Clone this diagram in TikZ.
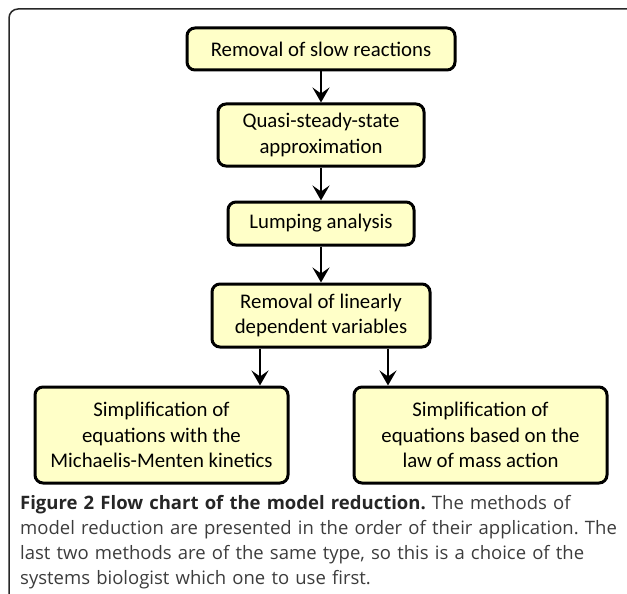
\documentclass[tikz,border=0pt]{standalone}
\usepackage{fontspec}
\setmainfont{Carlito}
\newfontfamily\capfont{Open Sans}
\usetikzlibrary{arrows.meta}
\definecolor{boxfill}{RGB}{255,255,200}
\definecolor{captext}{RGB}{60,60,60}
\definecolor{frameline}{RGB}{40,40,40}
\frenchspacing
\begin{document}
\begin{tikzpicture}[x=1pt,y=-1pt,
  stepbox/.style={draw=black, line width=3pt, fill=boxfill, rounded corners=8pt,
    align=center, inner sep=0pt, font=\fontsize{20.8}{25.5}\selectfont},
  arr/.style={line width=2.5pt, -{Stealth[length=15pt,width=17pt,inset=6pt]}},
  frame/.style={draw=frameline, line width=1.5pt, rounded corners=9pt}]
\useasboundingbox (0,0) rectangle (627,594);
\draw[frame] (627,9) -- (9,9) -- (9,594);
\node[stepbox, minimum width=268pt, minimum height=42pt] (b1) at (321,49) {Removal of slow reactions};
\node[stepbox, minimum width=206pt, minimum height=62pt] (b2) at (321,135) {Quasi-steady-state\\approximation};
\node[stepbox, minimum width=186pt, minimum height=43pt] (b3) at (321,223.5) {Lumping analysis};
\node[stepbox, minimum width=218pt, minimum height=63pt] (b4) at (321,315.5) {Removal of linearly\\dependent variables};
\node[stepbox, minimum width=253pt, minimum height=96pt] (b5) at (161.5,435) {Simplification of\\equations with the\\Michaelis-Menten kinetics};
\node[stepbox, minimum width=253pt, minimum height=96pt] (b6) at (480.5,435) {Simplification of\\equations based on the\\law of mass action};
\draw[arr] (b1) -- (b2);
\draw[arr] (b2) -- (b3);
\draw[arr] (b3) -- (b4);
\coordinate (s1) at ([xshift=-61pt]b4.south);
\coordinate (s2) at ([xshift=67pt]b4.south);
\draw[arr] (s1) -- (s1 |- b5.north);
\draw[arr] (s2) -- (s2 |- b6.north);
\node[anchor=north west, text width=615pt, align=left, inner sep=0pt, color=captext,
  font=\capfont\fontsize{18.5}{25}\selectfont] (cap) at (20,495)
  {{\color{black!85}\textbf{Figure 2 Flow chart of the model reduction.}} The methods of\\
   model reduction are presented in the order of their application. The\\
   last two methods are of the same type, so this is a choice of the\\
   systems biologist which one to use first.};
\end{tikzpicture}
\end{document}
